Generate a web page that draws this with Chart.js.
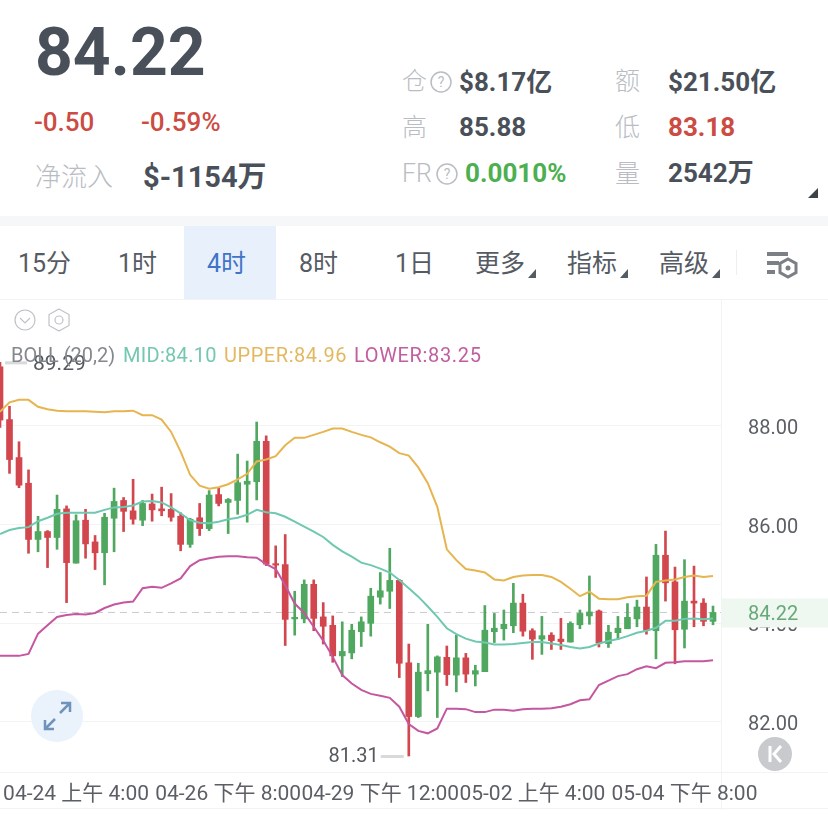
<!DOCTYPE html>
<html lang="zh">
<head>
<meta charset="utf-8">
<title>84.22</title>
<script src="https://cdn.jsdelivr.net/npm/chart.js@4/dist/chart.umd.min.js"></script>
<style>
  html, body { margin: 0; padding: 0; background: #fff; }
  body { width: 828px; height: 820px; position: relative; overflow: hidden; font-family: Roboto, "Noto Sans CJK SC", sans-serif; color: #4a5059; }
  .t { position: absolute; white-space: nowrap; line-height: 1; }
  .lbl { color: #b9bdc3; font-size: 25px; font-weight: 300; }
  .val { font-size: 26px; font-weight: 700; }
  .red { color: #cc4b43; }
  .green { color: #4caf50; }
  .tab { font-size: 25px; font-weight: 400; color: #555b63; top: 251px; }
  .bar { position: absolute; }
  #chartWrap { position: absolute; left: 0; top: 300px; width: 828px; height: 510px; }
  svg { position: absolute; overflow: visible; }
</style>
</head>
<body>
  <div class="t" style="left:35px;top:20px;font-size:66px;font-weight:700">84.22</div>
  <div class="t red" style="left:34px;top:109px;font-size:26px;font-weight:500">-0.50</div>
  <div class="t red" style="left:141px;top:109px;font-size:26px;font-weight:500">-0.59%</div>
  <div class="t lbl" style="left:35px;top:164px;font-size:26px">净流入</div>
  <div class="t val" style="left:143px;top:163px;font-size:29px">$-1154万</div>

  <div class="t lbl" style="left:402px;top:69px">仓</div>
  <div class="t val" style="left:459px;top:69px">$8.17亿</div>
  <div class="t lbl" style="left:615px;top:69px">额</div>
  <div class="t val" style="left:668px;top:69px">$21.50亿</div>
  <div class="t lbl" style="left:402px;top:115px">高</div>
  <div class="t val" style="left:459px;top:114px">85.88</div>
  <div class="t lbl" style="left:615px;top:115px">低</div>
  <div class="t val red" style="left:668px;top:114px">83.18</div>
  <div class="t lbl" style="left:402px;top:161px">FR</div>
  <div class="t val green" style="left:465px;top:160px">0.0010%</div>
  <div class="t lbl" style="left:615px;top:161px">量</div>
  <div class="t val" style="left:668px;top:160px">2542万</div>

  <svg style="left:0;top:0" width="828" height="300">
    <g fill="none" stroke="#b9bdc3" stroke-width="1.5">
      <circle cx="441" cy="82" r="10"/>
      <circle cx="447" cy="174" r="10"/>
    </g>
    <g fill="#b9bdc3" font-size="14" font-family="Roboto" text-anchor="middle">
      <text x="441" y="87">?</text>
      <text x="447" y="179">?</text>
    </g>
    <path d="M818 188v10h-10z" fill="#3d4148"/>
    <path d="M536 269v9h-8z M628 269v9h-8z M720 269v9h-8z" fill="#555b63"/>
    <rect x="736" y="250" width="1" height="25" fill="#eceef0"/>
    <g fill="#7b7f86">
      <rect x="767" y="252" width="21" height="4"/>
      <rect x="767" y="261" width="12" height="4"/>
      <rect x="767" y="270" width="8" height="4"/>
    </g>
    <path d="M788 259l8 4.500v9l-8 4.500l-8-4.500v-9z" fill="none" stroke="#7b7f86" stroke-width="3"/>
    <circle cx="788" cy="268" r="2.500" fill="#7b7f86"/>
    <g fill="none" stroke="#bfc2c6" stroke-width="1.2">
      <circle cx="25" cy="320" r="10"/>
      <path d="M20 318l5 5l5-5"/>
      <path d="M59 309l10 5.500v11l-10 5.500l-10-5.500v-11z"/>
      <circle cx="59" cy="320" r="4"/>
    </g>
  </svg>

  <div class="bar" style="left:0;top:216px;width:828px;height:10px;background:#f6f7f8"></div>
  <div class="bar" style="left:184px;top:226px;width:92px;height:74px;background:#e8f1fb"></div>
  <div class="bar" style="left:0;top:299px;width:828px;height:1px;background:#f2f3f5"></div>
  <div class="t tab" style="left:18px">15分</div>
  <div class="t tab" style="left:118px">1时</div>
  <div class="t tab" style="left:207px;color:#3f74c9">4时</div>
  <div class="t tab" style="left:299px">8时</div>
  <div class="t tab" style="left:395px">1日</div>
  <div class="t tab" style="left:475px">更多</div>
  <div class="t tab" style="left:567px">指标</div>
  <div class="t tab" style="left:659px">高级</div>

  <div class="bar" style="left:721px;top:300px;width:1px;height:510px;background:#f2f3f5"></div>
  <div class="bar" style="left:0;top:772px;width:828px;height:1px;background:#f2f3f5"></div>
  <div class="bar" style="left:0;top:808px;width:828px;height:1px;background:#f2f3f5"></div>
  <div id="chartWrap"><canvas id="kline" width="828" height="510"></canvas></div>

  <div class="t" style="left:11px;top:345px;font-size:20px;color:#85888d">BOLL (20,2)</div>
  <div class="t" style="left:123px;top:345px;font-size:20px;letter-spacing:.3px;color:#74c7b1">MID:84.10</div>
  <div class="t" style="left:224px;top:345px;font-size:20px;letter-spacing:.55px;color:#e3b860">UPPER:84.96</div>
  <div class="t" style="left:354px;top:345px;font-size:20px;letter-spacing:.65px;color:#c0609f">LOWER:83.25</div>

  <svg style="left:0;top:0" width="828" height="820">
    <circle cx="57" cy="716" r="26" fill="#eaf2fb"/>
    <g fill="none" stroke="#6f93bd" stroke-width="2.500">
      <path d="M60 713l10-10 M61 703h9v9"/>
      <path d="M55 719l-10 10 M45 720v9h9"/>
    </g>
    <circle cx="775" cy="754" r="17" fill="#c8cacd"/>
    <path d="M770 746v16 M781 746l-7 8l7 8" fill="none" stroke="#fff" stroke-width="3"/>
  </svg>

<script>
var opens = [89.20,88.13,87.36,86.84,85.70,85.86,85.74,86.32,85.22,86.09,85.65,85.43,86.13,86.49,86.28,86.09,86.42,86.32,86.31,86.17,85.60,86.14,85.92,86.61,86.45,86.49,86.82,86.87,87.69,85.21,85.19,84.09,84.09,84.79,84.13,83.96,83.34,83.40,83.83,84.00,84.53,84.65,84.87,83.20,82.11,82.98,83.01,83.31,82.95,83.30,82.97,83.02,83.83,83.89,83.95,84.41,83.85,83.68,83.76,83.68,83.62,83.97,84.15,84.25,83.59,83.81,83.89,84.09,84.33,83.85,85.38,84.84,83.88,84.45,84.41,84.04];
var closes = [88.12,87.32,86.80,85.70,85.86,85.74,86.31,85.23,86.08,85.61,85.43,86.15,86.47,86.27,86.11,86.43,86.30,86.28,86.15,85.60,86.11,85.92,86.60,86.43,86.51,86.85,86.88,87.69,85.20,85.18,84.08,84.12,84.79,84.10,83.94,83.34,83.43,83.86,84.03,84.55,84.66,84.87,83.19,82.11,83.01,83.04,83.32,82.96,83.30,82.97,83.04,83.86,83.90,83.98,84.41,83.84,83.68,83.75,83.65,83.63,84.00,84.20,84.23,83.60,83.82,83.90,84.12,84.33,83.86,85.38,84.82,83.87,84.45,84.41,84.04,84.22];
var highs = [89.29,88.40,87.68,87.11,86.17,85.88,86.60,86.38,86.20,86.31,85.78,86.23,86.74,86.55,86.92,86.49,86.62,86.76,86.63,86.24,86.13,86.43,86.69,86.74,86.53,87.43,87.29,88.08,87.80,85.57,85.80,84.65,84.88,84.88,84.42,84.15,84.03,83.98,84.13,84.71,85.03,85.52,84.89,83.58,83.19,83.98,83.34,83.54,83.76,83.39,83.15,84.36,84.20,84.27,84.81,84.59,83.89,84.14,83.81,84.10,84.03,84.27,84.96,84.27,83.96,84.14,84.40,84.47,84.94,85.60,85.87,85.14,85.29,85.16,84.50,84.35];
var lows = [87.97,87.04,86.75,85.42,85.45,85.13,85.50,84.42,85.22,85.32,85.09,84.78,85.45,85.86,86.01,85.98,86.07,86.18,86.07,85.47,85.54,85.78,85.88,86.38,85.82,86.21,86.05,86.50,85.17,84.93,83.55,83.76,84.01,83.85,83.58,83.21,82.92,83.28,83.53,83.74,84.39,84.30,82.90,81.31,82.09,82.63,82.09,82.74,82.61,82.80,82.73,83.02,83.61,83.66,83.81,83.74,83.27,83.37,83.47,83.47,83.62,83.89,83.98,83.52,83.51,83.67,83.89,83.93,83.78,83.28,84.45,83.18,83.50,83.93,83.95,83.97];
var upper = [88.29,88.48,88.53,88.53,88.39,88.34,88.31,88.30,88.30,88.30,88.29,88.28,88.30,88.30,88.31,88.22,88.22,88.13,87.88,87.48,87.01,86.79,86.73,86.76,86.82,86.92,87.03,87.28,87.32,87.39,87.61,87.76,87.76,87.82,87.88,87.95,87.95,87.88,87.82,87.77,87.67,87.58,87.45,87.40,87.16,86.84,86.36,85.50,85.28,85.10,85.07,85.03,84.89,84.87,84.94,84.97,84.98,84.98,84.94,84.84,84.70,84.55,84.64,84.50,84.49,84.49,84.53,84.55,84.56,84.84,84.87,84.89,84.94,84.97,84.94,84.96];
var mid = [85.81,85.89,85.93,85.95,86.07,86.14,86.22,86.24,86.24,86.24,86.24,86.30,86.35,86.36,86.39,86.47,86.48,86.45,86.35,86.23,86.09,86.04,86.03,86.06,86.11,86.14,86.20,86.30,86.25,86.23,86.16,86.06,85.96,85.86,85.75,85.59,85.46,85.35,85.23,85.18,85.11,85.03,84.88,84.71,84.54,84.34,84.13,83.90,83.78,83.69,83.63,83.61,83.57,83.57,83.58,83.60,83.62,83.62,83.59,83.56,83.52,83.49,83.52,83.59,83.64,83.68,83.74,83.81,83.85,83.91,84.05,84.05,84.09,84.10,84.08,84.10];
var lower = [83.34,83.34,83.34,83.38,83.79,83.96,84.13,84.17,84.19,84.18,84.21,84.31,84.38,84.42,84.44,84.71,84.74,84.72,84.81,84.91,85.16,85.28,85.32,85.35,85.36,85.36,85.34,85.33,85.20,85.10,84.77,84.40,84.21,83.93,83.65,83.32,82.95,82.78,82.65,82.57,82.53,82.49,82.31,81.96,81.82,81.77,81.87,82.27,82.27,82.26,82.20,82.20,82.25,82.25,82.23,82.26,82.27,82.27,82.28,82.31,82.36,82.44,82.46,82.75,82.84,82.93,82.97,83.07,83.13,83.09,83.20,83.21,83.23,83.23,83.23,83.25];
var priceTicks = [82, 84, 86, 88];
var timeTicks = [8, 24, 40, 56, 72];
var timeLabels = ["04-24 上午 4:00", "04-26 下午 8:00", "04-29 下午 12:00", "05-02 上午 4:00", "05-04 下午 8:00"];
var lastPrice = 84.22;
var topMark = { i: 0, v: 89.29 };
var lowMark = { i: 43, v: 81.31 };

var RED = "#d2464e", GREEN = "#4fa760";
var FONT = 'Roboto, "Noto Sans CJK SC", sans-serif';

function series(arr) { return arr.map(function (v, i) { return { x: i, y: v }; }); }
function candleColors() { return opens.map(function (o, i) { return closes[i] >= o ? GREEN : RED; }); }

// last price tag and the high/low markers sit on top of the axis labels
var overlay = {
  id: "overlay",
  afterDraw: function (chart) {
    var c = chart.ctx, xs = chart.scales.x, ys = chart.scales.y, a = chart.chartArea;
    var py = ys.getPixelForValue(lastPrice);
    c.save();
    c.fillStyle = "#eef7f0";
    c.fillRect(a.right + 1, py - 14, chart.width - a.right, 29);
    c.fillStyle = "#68a97a";
    c.font = "20px " + FONT;
    c.textBaseline = "middle";
    c.textAlign = "left";
    c.fillText(lastPrice.toFixed(2), 748, py + 3);

    c.fillStyle = "#d8d9db";
    var hy = ys.getPixelForValue(topMark.v), hx = xs.getPixelForValue(topMark.i);
    c.fillRect(hx + 5, hy - 1, 22, 3);
    var ly = ys.getPixelForValue(lowMark.v), lx = xs.getPixelForValue(lowMark.i);
    c.fillRect(lx - 28, ly - 1, 23, 3);
    c.fillStyle = "#55595f";
    c.font = "21px " + FONT;
    c.fillText(topMark.v.toFixed(2), hx + 33, hy + 2);
    c.textAlign = "right";
    c.font = "20px " + FONT;
    c.fillText(lowMark.v.toFixed(2), lx - 30, ly + 1);
    c.restore();
  }
};

var colors = candleColors();
new Chart(document.getElementById("kline"), {
  data: {
    datasets: [
      { type: "line", data: series(upper), borderColor: "#e6b54f", borderWidth: 2, pointRadius: 0, tension: 0, order: 1 },
      { type: "line", data: series(mid), borderColor: "#6fc8b0", borderWidth: 2, pointRadius: 0, tension: 0, order: 1 },
      { type: "line", data: series(lower), borderColor: "#c457a0", borderWidth: 2, pointRadius: 0, tension: 0, order: 1 },
      { type: "line", data: [{ x: 0, y: lastPrice }, { x: 75.84, y: lastPrice }], borderColor: "#c9cbce", borderWidth: 1, borderDash: [7, 5], pointRadius: 0, order: 4 },
      { type: "bar", data: opens.map(function (o, i) { return { x: i, y: [o, closes[i]] }; }), backgroundColor: colors, barThickness: 6, grouped: false, order: 2 },
      { type: "bar", data: lows.map(function (l, i) { return { x: i, y: [l, highs[i]] }; }), backgroundColor: colors, barThickness: 2, grouped: false, order: 3 }
    ]
  },
  options: {
    responsive: false,
    animation: false,
    layout: { padding: 0 },
    plugins: { legend: { display: false }, tooltip: { enabled: false } },
    scales: {
      x: {
        type: "linear", min: 0, max: 75.84, offset: false,
        afterBuildTicks: function (s) { s.ticks = timeTicks.map(function (v) { return { value: v }; }); },
        afterFit: function (s) { s.height = 38; s.paddingLeft = 0; s.paddingRight = 0; s.paddingTop = 0; s.paddingBottom = 0; },
        grid: { display: false },
        border: { display: false },
        ticks: {
          autoSkip: false, maxRotation: 0, padding: 2, color: "#5b5f65",
          font: { family: FONT, size: 21 },
          callback: function (v) { return timeLabels[timeTicks.indexOf(v)]; }
        }
      },
      y: {
        position: "right", min: 80.986, max: 90.554,
        afterBuildTicks: function (s) { s.ticks = priceTicks.map(function (v) { return { value: v }; }); },
        afterFit: function (s) { s.width = 107; s.paddingLeft = 0; s.paddingRight = 0; s.paddingTop = 0; s.paddingBottom = 0; },
        grid: { color: "#f2f3f5", drawTicks: false },
        border: { display: false },
        ticks: {
          padding: 27, labelOffset: 3, color: "#5b5f65",
          font: { family: FONT, size: 20 },
          callback: function (v) { return v.toFixed(2); }
        }
      }
    }
  },
  plugins: [overlay]
});
</script>
</body>
</html>
